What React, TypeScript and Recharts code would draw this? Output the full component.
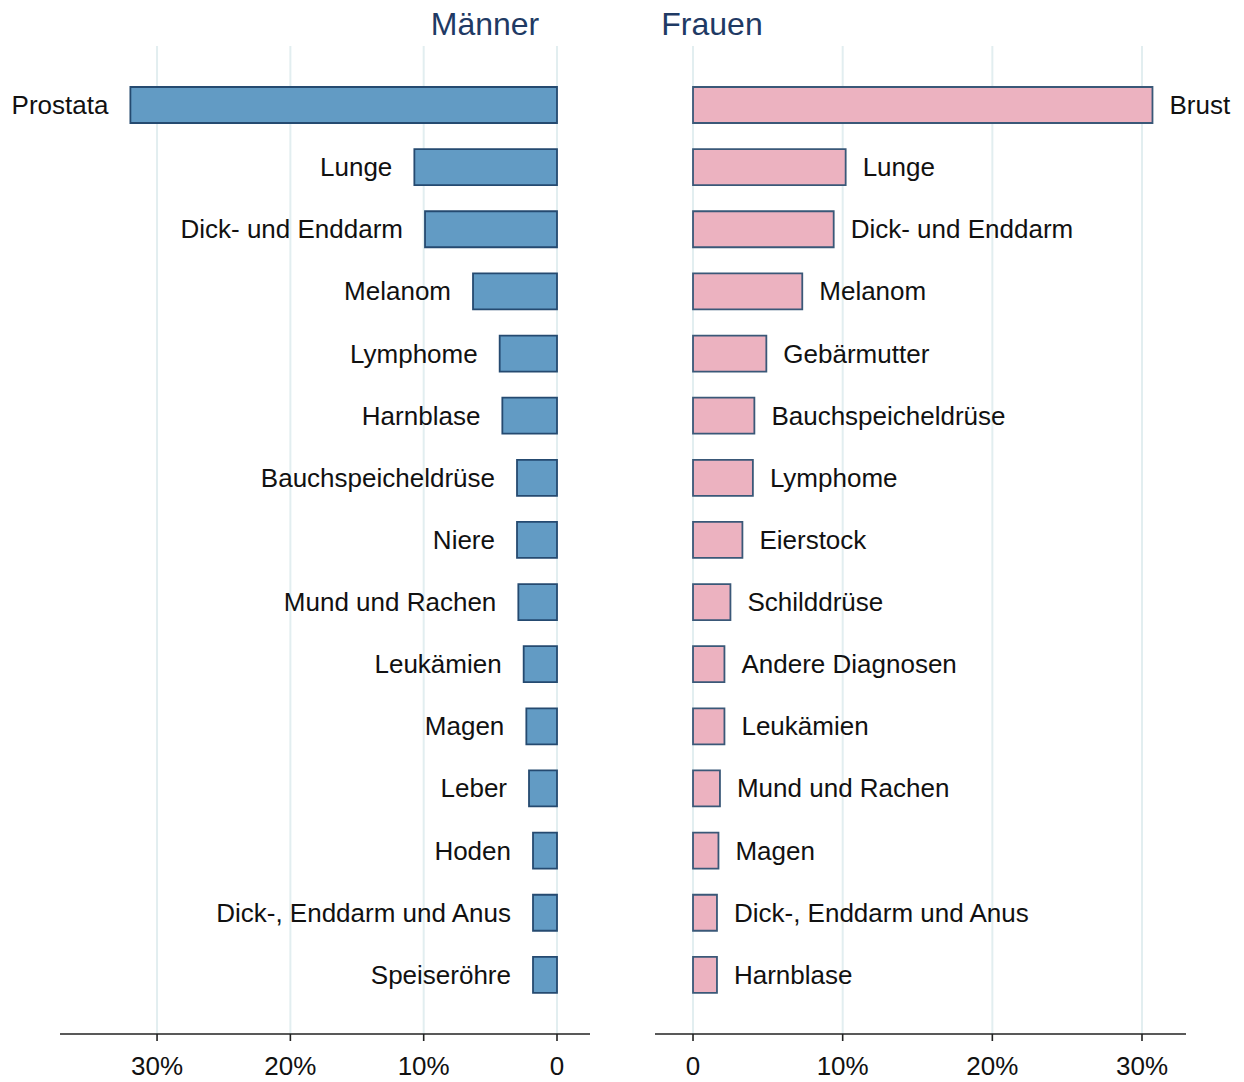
import React from "react";
import { BarChart, Bar, XAxis, YAxis, CartesianGrid, LabelList } from "recharts";

const maleCategories = [
  "Prostata", "Lunge", "Dick- und Enddarm", "Melanom", "Lymphome", "Harnblase",
  "Bauchspeicheldrüse", "Niere", "Mund und Rachen", "Leukämien", "Magen", "Leber",
  "Hoden", "Dick-, Enddarm und Anus", "Speiseröhre",
];
const maleValues = [32.0, 10.7, 9.9, 6.3, 4.3, 4.1, 3.0, 3.0, 2.9, 2.5, 2.3, 2.1, 1.8, 1.8, 1.8];

const femaleCategories = [
  "Brust", "Lunge", "Dick- und Enddarm", "Melanom", "Gebärmutter", "Bauchspeicheldrüse",
  "Lymphome", "Eierstock", "Schilddrüse", "Andere Diagnosen", "Leukämien", "Mund und Rachen",
  "Magen", "Dick-, Enddarm und Anus", "Harnblase",
];
const femaleValues = [30.7, 10.2, 9.4, 7.3, 4.9, 4.1, 4.0, 3.3, 2.5, 2.1, 2.1, 1.8, 1.7, 1.6, 1.6];

const tickValues = [0, 10, 20, 30];

const FONT = '"Liberation Sans", Arial, sans-serif';

const maleData = maleCategories.map((name, i) => ({ name, value: maleValues[i] }));
const femaleData = femaleCategories.map((name, i) => ({ name, value: femaleValues[i] }));

const fmtTick = (v: number) => (v === 0 ? "0" : `${v}%`);

function SideLabel(side: "left" | "right") {
  return (props: any) => {
    const { x, y, width, height, value } = props;
    const x0 = Math.min(x, x + width);
    const x1 = Math.max(x, x + width);
    const cy = y + height / 2;
    return (
      <text
        x={side === "left" ? x0 - 22 : x1 + 17}
        y={cy}
        textAnchor={side === "left" ? "end" : "start"}
        dominantBaseline="central"
        fontSize={26}
        fontFamily={FONT}
        fill="#111"
      >
        {value}
      </text>
    );
  };
}

function Panel({ data, domain, reversed, fill, stroke, side, margin }: any) {
  return (
    <BarChart
      width={620}
      height={1082}
      data={data}
      layout="vertical"
      margin={margin}
      barCategoryGap={0}
    >
      {/* syncWithTicks: no extra grid lines at the plot edges */}
      <CartesianGrid horizontal={false} stroke="#e2eef0" strokeWidth={2} syncWithTicks />
      <XAxis
        type="number"
        domain={domain}
        allowDataOverflow
        reversed={reversed}
        ticks={tickValues}
        tickFormatter={fmtTick}
        height={48}
        tickSize={7}
        tickMargin={16}
        axisLine={{ stroke: "#222", strokeWidth: 1.6 }}
        tickLine={{ stroke: "#222", strokeWidth: 1.6 }}
        tick={{ fill: "#111", fontSize: 26, fontFamily: FONT }}
      />
      <YAxis
        type="category"
        dataKey="name"
        hide
        width={0}
        padding={{ top: 28, bottom: 28 }}
      />
      <Bar
        dataKey="value"
        barSize={36}
        fill={fill}
        stroke={stroke}
        strokeWidth={1.8}
        isAnimationActive={false}
      >
        <LabelList dataKey="name" content={SideLabel(side)} />
      </Bar>
    </BarChart>
  );
}

export default function App() {
  return (
    <div
      style={{
        position: "absolute",
        left: 0,
        top: 0,
        width: 1244,
        height: 1082,
        background: "#fff",
        fontFamily: FONT,
      }}
    >
      <div style={{ position: "absolute", left: 0, top: 0 }}>
        <Panel
          data={maleData}
          domain={[-2.475, 37.28]}
          reversed
          fill="#629bc4"
          stroke="#254a70"
          side="left"
          margin={{ top: 46, right: 30, bottom: 0, left: 60 }}
        />
      </div>
      <div style={{ position: "absolute", left: 620, top: 0 }}>
        <Panel
          data={femaleData}
          domain={[-2.54, 32.94]}
          reversed={false}
          fill="#ecb2c0"
          stroke="#3a5878"
          side="right"
          margin={{ top: 46, right: 54, bottom: 0, left: 35 }}
        />
      </div>
      <div
        style={{
          position: "absolute",
          left: 385,
          width: 200,
          top: 6,
          textAlign: "center",
          fontSize: 32,
          color: "#1f3a64",
        }}
      >
        Männer
      </div>
      <div
        style={{
          position: "absolute",
          left: 612,
          width: 200,
          top: 6,
          textAlign: "center",
          fontSize: 32,
          color: "#1f3a64",
        }}
      >
        Frauen
      </div>
    </div>
  );
}
